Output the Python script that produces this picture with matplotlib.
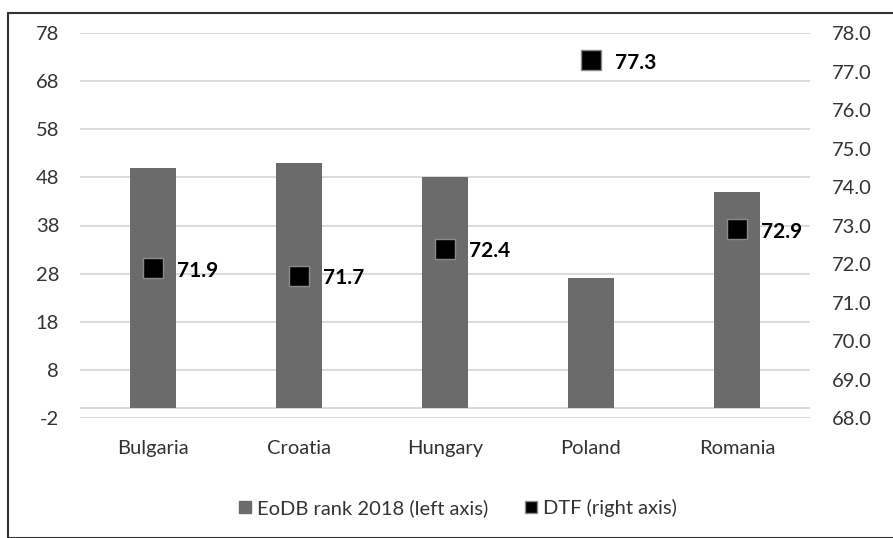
import matplotlib.pyplot as plt
from matplotlib.patches import Rectangle

countries = ["Bulgaria", "Croatia", "Hungary", "Poland", "Romania"]
eodb_rank = [50, 51, 48, 27, 45]
dtf = [71.9, 71.7, 72.4, 77.3, 72.9]

left_ticks = list(range(-2, 79, 10))
right_ticks = [68 + i for i in range(11)]

plt.rcParams['font.family'] = ['Lato', 'DejaVu Sans']
plt.rcParams['axes.unicode_minus'] = False

fig = plt.figure(figsize=(8.93, 5.38), dpi=100)
ax = fig.add_axes([80 / 893, 1 - 418 / 538, 730 / 893, 385 / 538])
ax2 = ax.twinx()

x = list(range(len(countries)))
ax.bar(x, eodb_rank, width=0.31, color='#6b6b6b', zorder=3)
ax.set_ylim(-2, 78)
ax.set_yticks(left_ticks)
ax.set_xlim(-0.5, len(countries) - 0.5)
ax.set_xticks(x)
ax.set_xticklabels(countries)
ax.grid(axis='y', color='#d4d4d4', linewidth=1.2, zorder=0)
ax.axhline(0, color='#d4d4d4', linewidth=1.2, zorder=1)

ax2.set_ylim(68, 78)
ax2.set_yticks(right_ticks)
ax2.set_yticklabels([f"{t:.1f}" for t in right_ticks])
ax2.scatter(x, dtf, marker='s', s=220, color='black',
            edgecolors='#8a8a8a', linewidths=1, zorder=5)
for xi, v in zip(x, dtf):
    ax2.annotate(f"{v:.1f}", (xi, v), xytext=(17, -2),
                 textcoords='offset points', va='center', ha='left',
                 fontsize=15, fontweight='bold', color='black')

for a in (ax, ax2):
    for s in a.spines.values():
        s.set_visible(False)
    a.tick_params(length=0, labelsize=14.5, colors='#333333')
ax.tick_params(axis='y', pad=15)
ax.tick_params(axis='x', pad=16)
ax2.tick_params(axis='y', pad=16)

h1 = Rectangle((0, 0), 1, 1, color='#6b6b6b')
h2 = Rectangle((0, 0), 1, 1, facecolor='black', edgecolor='#8a8a8a')
fig.legend([h1, h2], ["EoDB rank 2018 (left axis)", "DTF (right axis)"],
           loc='center', bbox_to_anchor=(458 / 893, 1 - 508 / 538), ncol=2,
           frameon=False, fontsize=14.5, handlelength=0.6, handleheight=0.6,
           handletextpad=0.3, columnspacing=1.8, labelcolor='#333333')

fig.patches.append(Rectangle((8 / 893, 0), 1.2, 1 - 13 / 538,
                             transform=fig.transFigure, fill=False,
                             edgecolor='#333333', linewidth=1.5))

fig.savefig("out.png", dpi=100)
